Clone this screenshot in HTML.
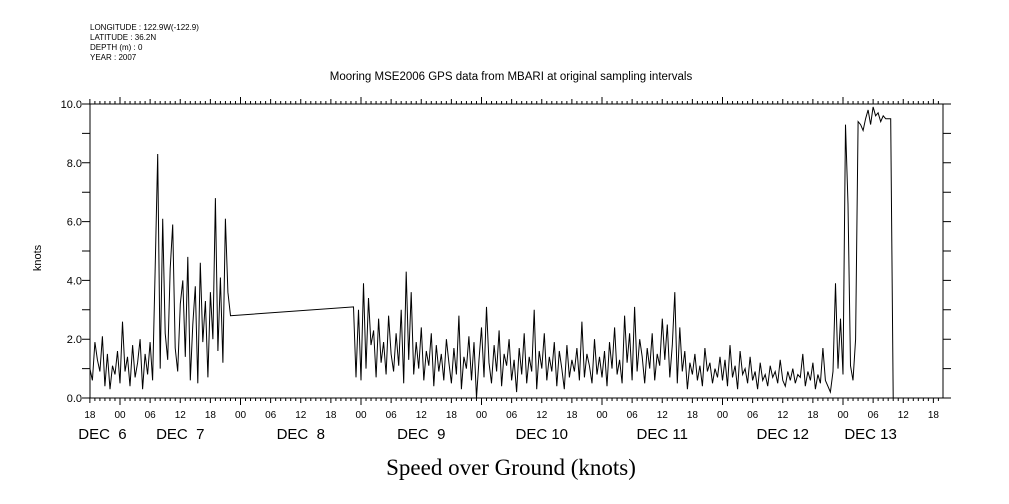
<!DOCTYPE html>
<html><head><meta charset="utf-8"><style>
body{margin:0;background:#fff;}
svg{display:block;font-family:"Liberation Sans",sans-serif;}
</style></head><body>
<svg id="chart" width="1009" height="504" viewBox="0 0 1009 504">
<g font-size="8" fill="#000">
<text x="90" y="30">LONGITUDE : 122.9W(-122.9)</text>
<text x="90" y="40">LATITUDE : 36.2N</text>
<text x="90" y="50">DEPTH (m) : 0</text>
<text x="90" y="60">YEAR : 2007</text>
</g>
<text x="511" y="80" font-size="11.5" text-anchor="middle">Mooring MSE2006 GPS data from MBARI at original sampling intervals</text>
<text x="0" y="0" font-size="11" text-anchor="middle" transform="translate(41,258) rotate(-90)">knots</text>
<text x="511" y="475" font-size="23" text-anchor="middle" font-family="Liberation Serif, serif">Speed over Ground (knots)</text>
<rect x="90" y="104" width="853" height="294" fill="none" stroke="#000" stroke-width="1"/>
<g id="axes"></g>
<g id="marks"></g>
</svg>
<script>
// data: hours since Dec 7 00:00, values in knots
const segAStart = -6;
const segAStep = 0.5;
const segAValues = [1.0,0.6,1.9,1.3,0.9,2.1,0.4,1.5,0.3,1.1,0.8,1.6,0.5,
2.6,0.9,1.4,0.4,1.8,0.7,1.2,2.0,0.3,1.5,0.8,1.9,
0.6,4.3,8.3,1.0,6.1,2.2,1.3,4.4,5.9,1.7,0.9,3.2,
4.0,1.4,4.8,0.6,2.5,3.8,0.5,4.6,1.9,3.3,0.7,3.6,
2.0,6.8,1.6,4.1,1.2,6.1,3.6,2.8];
const segBStart = 46.5;
const segBStep = 0.5;
const segBValues = [3.1,0.7,3.0,0.6,
3.9,1.0,3.4,1.8,2.3,0.7,2.7,1.2,1.9,0.8,2.8,1.5,
0.9,2.2,1.1,3.0,0.5,4.3,1.3,3.6,0.8,1.9,1.0,2.4,
0.6,1.6,1.1,2.2,0.4,1.8,0.9,1.5,0.6,2.0,1.2,0.5,
1.7,0.8,2.8,0.3,1.4,1.0,2.1,0.6,1.9,0.0,1.3,2.4,
0.7,3.1,1.2,0.5,1.8,0.9,2.3,0.4,1.5,1.1,2.0,0.6,
1.3,0.2,1.7,0.8,2.2,0.5,1.4,0.9,3.0,0.3,1.6,1.0,
2.2,0.6,1.4,0.9,1.9,0.4,1.6,1.0,0.3,1.8,0.7,1.3,
0.9,1.7,0.6,2.6,0.7,1.5,1.1,0.5,2.0,0.8,1.4,0.7,
1.6,0.4,1.9,1.0,2.4,0.8,1.3,0.5,2.8,1.2,2.2,0.6,
3.1,0.9,2.0,1.4,0.5,1.7,1.0,2.2,0.6,1.5,1.1,2.7,
1.3,2.5,0.7,1.8,3.6,0.5,2.4,0.9,1.6,0.3,1.2,0.8,
1.5,0.6,1.1,0.4,1.7,0.9,1.2,0.5,1.0,0.7,1.4,0.6,
1.3,0.4,1.8,0.7,1.1,0.3,1.6,0.8,1.0,0.5,1.4,0.6,
0.9,0.3,1.2,0.6,0.8,0.4,1.1,0.7,0.9,0.5,1.3,0.6,
0.4,0.9,0.6,1.0,0.5,0.8,0.7,1.5,0.4,0.9,0.6,1.2,
0.3,0.8,0.5,1.7,0.6,0.4,0.2,0.9,
3.9,1.0,2.7,0.8,9.3,6.6,1.1,0.6,2.0,9.4,9.3,9.1,9.5,9.8,9.3,9.9,9.6,9.7,9.4,9.6,9.5,9.5,9.5,0.0];
const yTicks = [0,2,4,6,8,10];
const yTickLabels = ["0.0","2.0","4.0","6.0","8.0","10.0"];
const hourLabels = ["18","00","06","12"];
const dayLabels = ["DEC  6","DEC  7","DEC  8","DEC  9","DEC 10","DEC 11","DEC 12","DEC 13"];
const dayLabelHours = [-3.5,12,36,60,84,108,132,149.5];

const NS="http://www.w3.org/2000/svg";
const X0=90,X1=943,Y0=398,Y1=104;
const xs=h=>120+h*120.5/24;
const ys=v=>Y0-(v/10)*(Y0-Y1);
const axes=document.getElementById('axes');
const marks=document.getElementById('marks');
function mk(tag,attrs,parent){const e=document.createElementNS(NS,tag);for(const k in attrs)e.setAttribute(k,attrs[k]);parent.appendChild(e);return e;}
let d='';
for(let v=0;v<=10;v++){
  const y=ys(v);
  d+=`M${X0-8},${y}H${X0}M${X1},${y}H${X1+8}`;
}
yTicks.forEach((v,i)=>{
  const t=mk('text',{x:82,y:ys(v)+4,'font-size':11,'text-anchor':'end'},axes);
  
  
  t.textContent=yTickLabels[i];
});
for(let h=-6;h<=163;h++){
  const x=xs(h); if(x<X0-0.5||x>X1+0.5)continue;
  const major=(h%6===0);
  const len=major?(h%24===0?7:5):3;
  d+=`M${x},${Y0}V${Y0+len}M${x},${Y1}V${Y1-len}`;
  if(major){
    const t=mk('text',{x:x,y:418,'font-size':10,'text-anchor':'middle'},axes);
    
    
    const q=(((h%24)+24)%24)/6;
    t.textContent=hourLabels[q===3?0:q+1];
  }
}
mk('path',{d:d,stroke:'#000','stroke-width':1,fill:'none'},axes);
dayLabels.forEach((s,i)=>{
  const t=mk('text',{x:xs(dayLabelHours[i]),y:439,'font-size':15,'text-anchor':'middle'},axes);
  
  
  t.style.whiteSpace='pre';
  t.textContent=s;
});
let pts=[];
segAValues.forEach((v,i)=>pts.push([xs(segAStart+i*segAStep),ys(v)]));
segBValues.forEach((v,i)=>pts.push([xs(segBStart+i*segBStep),ys(v)]));
const line=mk('path',{d:'M'+pts.map(p=>p[0].toFixed(1)+','+p[1].toFixed(1)).join('L'),stroke:'#000','stroke-width':1,fill:'none'},marks);


</script>
</body></html>
